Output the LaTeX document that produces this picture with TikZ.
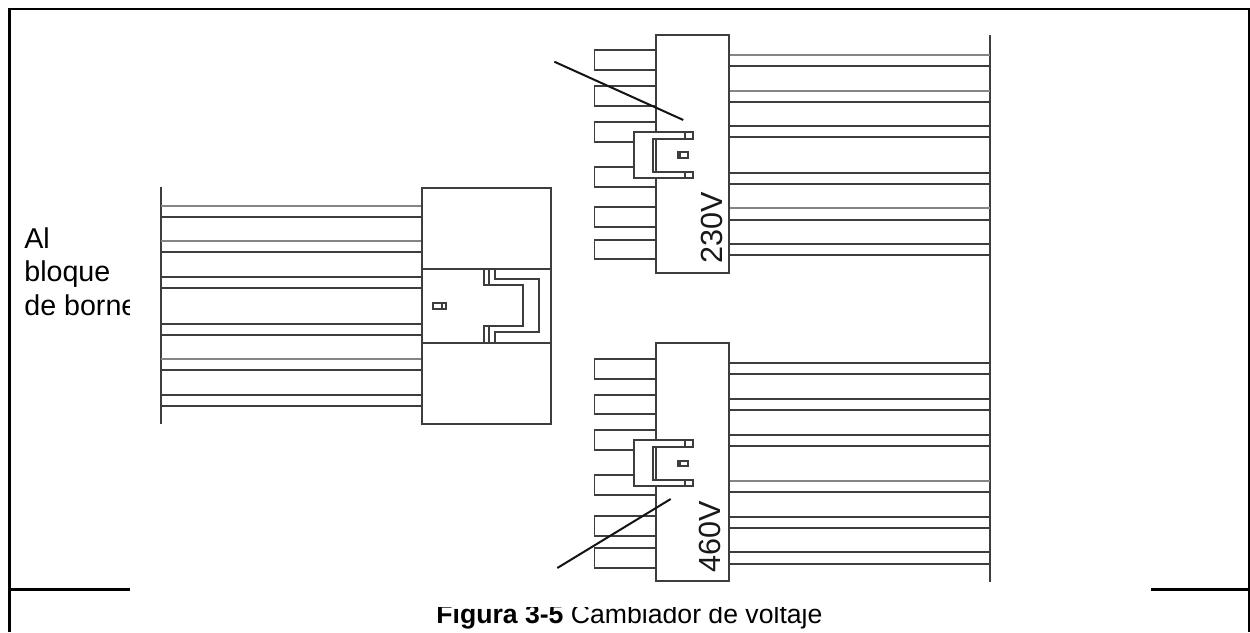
\documentclass[tikz,border=0pt]{standalone}
\usepackage{fontspec}
\setmainfont{Liberation Sans}
\tikzset{
  px/.style={x=0.02cm,y=-0.02cm},
  wire/.style={line width=0.036cm,draw=black!76},
  wirelight/.style={line width=0.036cm,draw=black!48},
  frameline/.style={line width=0.06cm,draw=black},
  leader/.style={line width=0.04cm,draw=black!92},
  lefttext/.style={anchor=base west,inner sep=0pt,font=\fontsize{16.3pt}{18pt}\selectfont},
  volt/.style={rotate=90,inner sep=0pt,anchor=center,font=\fontsize{17.4pt}{20pt}\selectfont,text=black!90},
}
\newcommand{\blockdraw}[1]{%
  \begin{scope}[yshift=#1]
  \foreach \a/\b in {50.3/70.3,86.3/106,122/141.7,167/186.7,207.3/227.3,239.7/259.3}{%
    \draw[wire] (655.7,\a) -- (594.5,\a) -- (594.5,\b) -- (655.7,\b);}
  \fill[white] (655.7,35) rectangle (729,273);
  \draw[wire] (655.7,35) rectangle (729,273);
  \draw[wire,fill=white] (693.3,132) -- (633.7,132) -- (633.7,178) -- (693.3,178) -- (693.3,171.7) -- (653.3,171.7) -- (653.3,138.7) -- (693.3,138.7) -- cycle;
  \fill[white] (654,139.5) rectangle (692,171);
  \draw[wire] (655.7,138.7) -- (655.7,171.7);
  \draw[wire] (685,132) -- (685,138.7);
  \draw[wire] (685,171.7) -- (685,178);
  \draw[wire] (677.7,152.3) rectangle (688.3,158);
  \draw[wire] (680.2,152.3) -- (680.2,158);
  \end{scope}}
\begin{document}
\begin{tikzpicture}[px]
\useasboundingbox (0,0) rectangle (1250,632);
\fill[white] (0,0) rectangle (1250,632);
% outer frame
\draw[frameline] (9.5,632) -- (9.5,9) -- (1249,9) -- (1249,632);
\draw[frameline] (9.5,589) -- (1249,589);
% texts that the figure overlaps
\node[lefttext] (t1) at (24,248) {Al};
\node[lefttext] (t2) at (24,281.7) {bloque};
\node[lefttext] (t3) at (24,315.7) {de borne};
\node[anchor=base west,inner sep=0pt,font=\fontsize{15.15pt}{18pt}\selectfont] (cap) at (436,623.5) {\textbf{Figura 3-5} Cambiador de voltaje};
% opaque figure panel
\fill[white] (130,12) rectangle (1151,606.5);
% common bus bars
\draw[wire] (990,35) -- (990,582);
\draw[wire] (161,187.3) -- (161,424.3);
% left plug leads
\foreach \a/\s in {205.7/wirelight,216.7/wire,241.3/wirelight,252.3/wire,277/wire,288.3/wire,323.7/wire,334.7/wire,359.3/wirelight,370.3/wire,395/wire,406/wire}{%
  \draw[\s] (161,\a) -- (422.3,\a);}
% right leads, upper then lower block
\foreach \a/\s in {55/wirelight,66/wire,90.7/wirelight,101.7/wire,126.3/wire,137.3/wire,173/wire,184/wire,208.3/wirelight,219.7/wire,244/wire,255.3/wire,
  363.3/wire,374.3/wire,399/wire,410/wire,434.7/wire,445.7/wire,481.3/wirelight,492.3/wire,516.7/wire,528/wire,552.3/wire,563.7/wire}{%
  \draw[\s] (729,\a) -- (990,\a);}
% left plug body
\draw[wire] (422.3,188) rectangle (550.7,423.7);
\draw[wire] (422.3,268.7) -- (550.7,268.7);
\draw[wire] (422.3,343.3) -- (550.7,343.3);
\draw[wire] (483.7,268.7) -- (483.7,285.3) -- (523,285.3) -- (523,326.3) -- (483.7,326.3) -- (483.7,343.3);
\draw[wire] (495.3,268.7) -- (495.3,279.3) -- (539.3,279.3) -- (539.3,332) -- (495.3,332) -- (495.3,343.3);
\draw[wire] (489.3,268.7) -- (489.3,285.3);
\draw[wire] (489.3,326.3) -- (489.3,343.3);
\draw[wire] (433.3,303) rectangle (445.7,309.3);
\draw[wire] (441.7,303) -- (441.7,309.3);
% two switch blocks
\blockdraw{0cm}
\blockdraw{-6.168cm}
% labels
\node[volt] (v1) at (711.5,227.5) {230V};
\node[volt] (v2) at (709.5,536.3) {460V};
% leader lines
\coordinate (l1a) at (554.3,61.7);
\coordinate (l1b) at (683.3,120);
\coordinate (l2a) at (557.3,568);
\coordinate (l2b) at (670.7,499);
\draw[leader] (l1a) -- (l1b);
\draw[leader] (l2a) -- (l2b);
\end{tikzpicture}
\end{document}
